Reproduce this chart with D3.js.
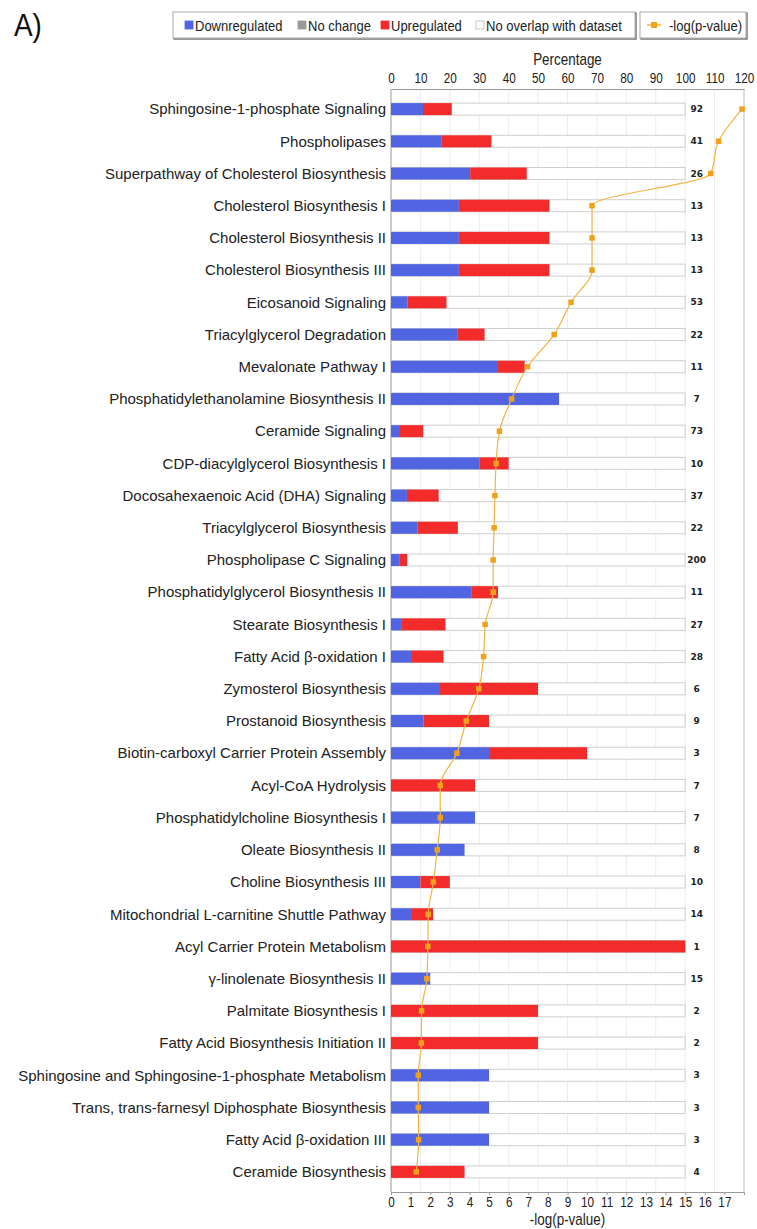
<!DOCTYPE html>
<html>
<head>
<meta charset="utf-8">
<script src="https://cdn.jsdelivr.net/npm/d3@7/dist/d3.min.js"></script>
<style>
  html, body { margin: 0; padding: 0; background: #fff; }
  svg { display: block; }
  .narrow { font-family: "Liberation Sans Narrow", "Arial Narrow", "Liberation Sans", Arial, sans-serif; }
</style>
</head>
<body>
<svg id="chart" width="757" height="1229"></svg>
<script>
// Canonical pathways, top to bottom
const categories = [
  "Sphingosine-1-phosphate Signaling",
  "Phospholipases",
  "Superpathway of Cholesterol Biosynthesis",
  "Cholesterol Biosynthesis I",
  "Cholesterol Biosynthesis II",
  "Cholesterol Biosynthesis III",
  "Eicosanoid Signaling",
  "Triacylglycerol Degradation",
  "Mevalonate Pathway I",
  "Phosphatidylethanolamine Biosynthesis II",
  "Ceramide Signaling",
  "CDP-diacylglycerol Biosynthesis I",
  "Docosahexaenoic Acid (DHA) Signaling",
  "Triacylglycerol Biosynthesis",
  "Phospholipase C Signaling",
  "Phosphatidylglycerol Biosynthesis II",
  "Stearate Biosynthesis I",
  "Fatty Acid \u03b2-oxidation I",
  "Zymosterol Biosynthesis",
  "Prostanoid Biosynthesis",
  "Biotin-carboxyl Carrier Protein Assembly",
  "Acyl-CoA Hydrolysis",
  "Phosphatidylcholine Biosynthesis I",
  "Oleate Biosynthesis II",
  "Choline Biosynthesis III",
  "Mitochondrial L-carnitine Shuttle Pathway",
  "Acyl Carrier Protein Metabolism",
  "\u03b3-linolenate Biosynthesis II",
  "Palmitate Biosynthesis I",
  "Fatty Acid Biosynthesis Initiation II",
  "Sphingosine and Sphingosine-1-phosphate Metabolism",
  "Trans, trans-farnesyl Diphosphate Biosynthesis",
  "Fatty Acid \u03b2-oxidation III",
  "Ceramide Biosynthesis"
];

// Total molecules in each pathway (printed at the right of each bar)
const totals = [92, 41, 26, 13, 13, 13, 53, 22, 11, 7, 73, 10, 37, 22, 200, 11, 27, 28, 6, 9, 3, 7, 7, 8, 10, 14, 1, 15, 2, 2, 3, 3, 3, 4];

// Molecules of the dataset found in each pathway
const downCounts = [10, 7, 7, 3, 3, 3, 3, 5, 4, 4, 2, 3, 2, 2, 6, 3, 1, 2, 1, 1, 1, 0, 2, 2, 1, 1, 0, 2, 0, 0, 1, 1, 1, 0];
const noChangeCounts = [0, 0, 0, 0, 0, 0, 0, 0, 0, 0, 0, 0, 0, 0, 0, 0, 0, 0, 0, 0, 0, 0, 0, 0, 0, 0, 0, 0, 0, 0, 0, 0, 0, 0];
const upCounts = [9, 7, 5, 4, 4, 4, 7, 2, 1, 0, 6, 1, 4, 3, 5, 1, 4, 3, 2, 2, 1, 2, 0, 0, 1, 1, 1, 0, 1, 1, 0, 0, 0, 1];

// Enrichment significance, -log(p-value)
const negLogP = [17.9, 16.7, 16.3, 10.25, 10.25, 10.25, 9.18, 8.32, 6.96, 6.15, 5.53, 5.36, 5.30, 5.26, 5.21, 5.21, 4.80, 4.72, 4.48, 3.84, 3.36, 2.51, 2.51, 2.36, 2.16, 1.90, 1.88, 1.83, 1.56, 1.55, 1.39, 1.39, 1.41, 1.29];

// Axis ticks
const pctTicks = [0, 10, 20, 30, 40, 50, 60, 70, 80, 90, 100, 110, 120];
const pTicks = [0, 1, 2, 3, 4, 5, 6, 7, 8, 9, 10, 11, 12, 13, 14, 15, 16, 17];

const legendLabels = ["Downregulated", "No change", "Upregulated", "No overlap with dataset"];

const COLORS = { down: "#5165e3", none: "#9a9a9a", up: "#f42b2b", empty: "#ffffff", line: "#f2b444", marker: "#f0a11c" };
const legendColors = [COLORS.down, COLORS.none, COLORS.up, COLORS.empty];

const rows = categories.map((name, i) => ({
  name,
  total: totals[i],
  down: downCounts[i] / totals[i] * 100,
  none: noChangeCounts[i] / totals[i] * 100,
  up: upCounts[i] / totals[i] * 100,
  p: negLogP[i]
}));

const svg = d3.select("#chart");
const plotLeft = 391, plotRight = 744, plotTop = 89, plotBottom = 1192;
const SQUEEZE = 0.84; // horizontal compression for the condensed captions

const xPct = d3.scaleLinear().domain([0, 120]).range([plotLeft, plotRight]);
const xP = d3.scaleLinear().domain([0, 18]).range([plotLeft, plotRight]);
const y = d3.scaleBand().domain(categories).range([93, 1188]).paddingInner(0.627).paddingOuter(0.3135);

// Condensed text helper: places text at (x, y) and narrows it
function narrowText(parent, x, yPos, size, str, anchor) {
  return parent.append("text")
    .attr("class", "narrow")
    .attr("transform", `translate(${x},${yPos}) scale(${SQUEEZE},1)`)
    .attr("text-anchor", anchor || "start")
    .attr("font-size", size).attr("fill", "#222").text(str);
}

// Panel tag
svg.append("text").attr("transform", `translate(14,36) scale(0.9,1)`)
  .attr("font-family", "Liberation Sans, Arial, sans-serif")
  .attr("font-size", 31).attr("fill", "#111").text("A)");

// Legend
const lg = svg.append("g");
function legendBox(x, w) {
  lg.append("rect").attr("x", x + 1).attr("y", 13).attr("width", w).attr("height", 26)
    .attr("fill", "none").attr("stroke", "#555").attr("stroke-width", 1.2);
  lg.append("rect").attr("x", x).attr("y", 12).attr("width", w).attr("height", 26)
    .attr("fill", "#fff").attr("stroke", "#aaa").attr("stroke-width", 1);
}
legendBox(173, 462);
legendBox(640, 106);
const legendX = [185, 298, 381, 476];
legendLabels.forEach((label, i) => {
  const c = legendColors[i];
  lg.append("rect").attr("x", legendX[i]).attr("y", 21).attr("width", 8).attr("height", 8)
    .attr("fill", c).attr("stroke", c === COLORS.empty ? "#bbb" : c).attr("stroke-width", 0.8);
  narrowText(lg, legendX[i] + 10, 31, 15.5, label);
});
lg.append("line").attr("x1", 647).attr("x2", 661).attr("y1", 25).attr("y2", 25)
  .attr("stroke", COLORS.line).attr("stroke-width", 1.5);
lg.append("rect").attr("x", 651).attr("y", 22).attr("width", 6).attr("height", 6).attr("fill", COLORS.marker);
narrowText(lg, 669, 31, 15.5, "-log(p-value)");

// Gridlines
svg.append("g").selectAll("line").data(pctTicks.slice(1)).join("line")
  .attr("x1", d => xPct(d)).attr("x2", d => xPct(d))
  .attr("y1", plotTop).attr("y2", plotBottom)
  .attr("stroke", d => d === 120 ? "#bbb" : "#ececec").attr("stroke-width", 1);

// Top axis (percentage)
const topAxis = svg.append("g").attr("transform", `translate(0,${plotTop})`)
  .call(d3.axisTop(xPct).tickValues(pctTicks).tickSize(0).tickPadding(6));
topAxis.attr("font-family", null).attr("font-size", null);
topAxis.select(".domain").attr("stroke", "#999");
topAxis.selectAll("text").attr("class", "narrow").attr("font-size", 14).attr("fill", "#222")
  .attr("transform", `scale(${SQUEEZE},1)`);
narrowText(svg, xPct(60), 64.5, 16, "Percentage", "middle");

// Bottom axis (-log p)
const botAxis = svg.append("g").attr("transform", `translate(0,${plotBottom})`)
  .call(d3.axisBottom(xP).tickValues(pTicks).tickSize(3).tickPadding(2));
botAxis.attr("font-family", null).attr("font-size", null);
botAxis.select(".domain").attr("stroke", "#999");
botAxis.selectAll(".tick line").attr("stroke", "#999");
botAxis.selectAll("text").attr("class", "narrow").attr("font-size", 14).attr("fill", "#222")
  .attr("transform", `scale(${SQUEEZE},1)`);
narrowText(svg, xP(9), 1224.5, 16, "-log(p-value)", "middle");

// Left axis line
svg.append("line").attr("x1", plotLeft).attr("x2", plotLeft).attr("y1", plotTop).attr("y2", plotBottom)
  .attr("stroke", "#999");

// Bars: 100% background, then stacked down / no change / up segments
const bars = svg.append("g").selectAll("g").data(rows).join("g");
bars.append("rect")
  .attr("x", xPct(0)).attr("y", d => y(d.name))
  .attr("width", xPct(100) - xPct(0)).attr("height", y.bandwidth())
  .attr("fill", "#fff").attr("stroke", "#cfcfcf").attr("stroke-width", 1);
bars.append("rect")
  .attr("x", xPct(0)).attr("y", d => y(d.name))
  .attr("width", d => xPct(d.down) - xPct(0)).attr("height", y.bandwidth())
  .attr("fill", COLORS.down);
bars.append("rect")
  .attr("x", d => xPct(d.down)).attr("y", d => y(d.name))
  .attr("width", d => xPct(d.none) - xPct(0)).attr("height", y.bandwidth())
  .attr("fill", COLORS.none);
bars.append("rect")
  .attr("x", d => xPct(d.down + d.none)).attr("y", d => y(d.name))
  .attr("width", d => xPct(d.up) - xPct(0)).attr("height", y.bandwidth())
  .attr("fill", COLORS.up);

// Category labels
svg.append("g").selectAll("text").data(rows).join("text")
  .attr("x", 386).attr("y", d => y(d.name) + y.bandwidth() / 2)
  .attr("dy", "0.35em").attr("text-anchor", "end")
  .attr("font-family", "Liberation Sans, Arial, sans-serif")
  .attr("font-size", 15).attr("fill", "#222")
  .text(d => d.name);

// Pathway sizes
svg.append("g").selectAll("text").data(rows).join("text")
  .attr("x", xPct(100) + 11.5).attr("y", d => y(d.name) + y.bandwidth() / 2)
  .attr("dy", "0.35em").attr("text-anchor", "middle")
  .attr("font-family", "DejaVu Sans, sans-serif").attr("font-weight", "bold")
  .attr("font-size", 9).attr("fill", "#222")
  .text(d => d.total);

// -log(p-value) line with square markers
const cy = d => y(d.name) + y.bandwidth() / 2;
svg.append("path").datum(rows)
  .attr("fill", "none").attr("stroke", COLORS.line).attr("stroke-width", 1.2)
  .attr("d", d3.line().x(d => xP(d.p)).y(cy).curve(d3.curveMonotoneY));
svg.append("g").selectAll("rect").data(rows).join("rect")
  .attr("x", d => xP(d.p) - 2.75).attr("y", d => cy(d) - 2.75)
  .attr("width", 5.5).attr("height", 5.5).attr("fill", COLORS.marker);
</script>
</body>
</html>
